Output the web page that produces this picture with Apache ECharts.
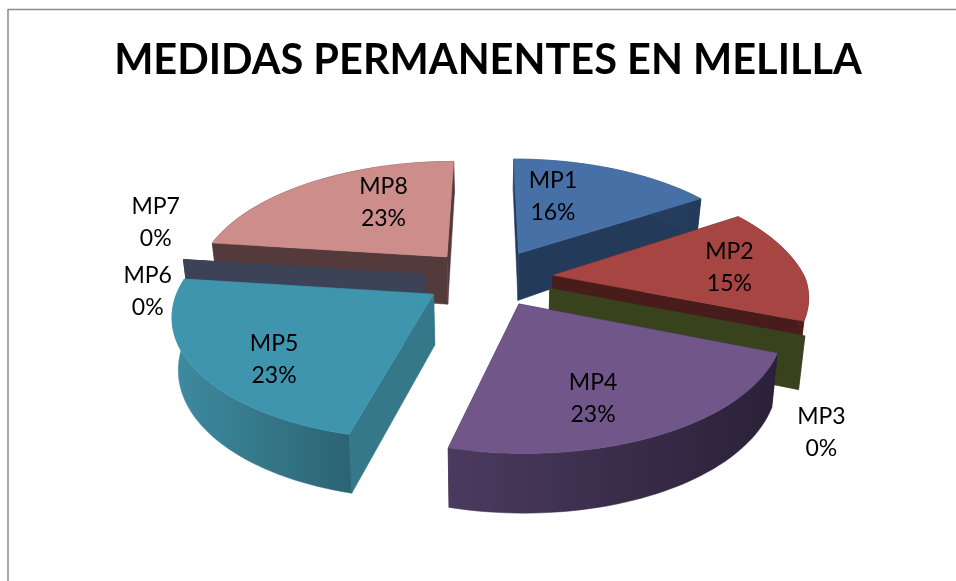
<!DOCTYPE html>
<html><head><meta charset="utf-8">
<style>html,body{margin:0;padding:0;background:#fff}#c{width:956px;height:581px}</style>
<script src="https://cdn.jsdelivr.net/npm/echarts@6/dist/echarts.min.js"></script>
</head><body><div id="c"></div>
<script>
const titleText = 'MEDIDAS PERMANENTES EN MELILLA';
const categories = ['MP1','MP2','MP3','MP4','MP5','MP6','MP7','MP8'];
const percents = [16,15,0,23,23,0,0,23];
const topColors = ['#4670a6','#a64542','#76923c','#715789','#4095ae','#5a6b85','#c0c0c0','#cd8d8a'];
const wallColors = ['#233a5a','#481c1a','#38431e','#2f2540','#35788a','#3c4356','#3c4356','#543a3a'];
const rimStops = [['#2f4d78','#233a5a'],['#7a2f2d','#481c1a'],['#38431e','#38431e'],['#4b3a5f','#2a2138'],['#3e8ba0','#2b6473'],['#3c4356','#3c4356'],['#3c4356','#3c4356'],['#543a3a','#543a3a']];
// label placement: fraction of radius along the slice middle, plus a nudge
const labelRadius = [0.5,0.6,1.3,0.6,0.6,1.2,1.2,0.6];
const labelNudge = [[-17,-11],[29,-1],[-66,81],[-6,21],[-22,22],[11,35],[19,-34],[22,-7]];

const cx=488.5, cy=278, R=252, EXPLODE_X=65, EXPLODE_Y=60, A_BACK=0.485, A_FRONT=0.47, K_BACK=0.2, K_FRONT=0.15, CONVERGE=0.98;
const total = percents.reduce((a,b)=>a+b,0);
const starts=[]; let acc=0;
percents.forEach(p=>{starts.push(acc/total*Math.PI*2);acc+=p;});
function project(u,v){const back=v<0,K=back?K_BACK:K_FRONT,A=back?A_BACK:A_FRONT,s=1/(1-K*v/R);return [cx+u*s, cy+A*v*s];}
function depthAt(v){const n=v/R;return n<0?50+15*n:50+8*n;}
function drop(u,v){const p=project(u,v);return [cx+(p[0]-cx)*CONVERGE,p[1]+depthAt(v)];}

function renderItem(params,api){
  const i=params.dataIndex, a0=starts[i], a1=a0+percents[i]/total*Math.PI*2, mid=(a0+a1)/2;
  const ox=EXPLODE_X*Math.sin(mid), oy=-EXPLODE_Y*Math.cos(mid);
  const rim=a=>[ox+R*Math.sin(a), oy-R*Math.cos(a)];
  const steps=Math.max(1,Math.round(percents[i]*2));
  const arc=[]; for(let t=0;t<=steps;t++) arc.push(rim(a0+(a1-a0)*t/steps));
  const rank=vOrder.indexOf(i)*10;
  const poly=(pts,fill,z)=>({type:'polygon',shape:{points:pts},z2:rank+z,silent:true,
    style:{fill:fill,stroke:fill,lineWidth:0.5}});
  const kids=[];
  const wall=(a)=>{const r=rim(a);return [project(ox,oy),project(r[0],r[1]),drop(r[0],r[1]),drop(ox,oy)];};
  kids.push(poly(wall(a0),wallColors[i],1));
  kids.push(poly(wall(a1),wallColors[i],2));
  if(percents[i]>0){
    const outer=arc.map(p=>project(p[0],p[1])).concat(arc.slice().reverse().map(p=>drop(p[0],p[1])));
    kids.push(poly(outer,new echarts.graphic.LinearGradient(0,0,1,0,[{offset:0,color:rimStops[i][0]},{offset:1,color:rimStops[i][1]}]),3));
    const top=[project(ox,oy)].concat(arc.map(p=>project(p[0],p[1])));
    kids.push(poly(top,topColors[i],4));
  }
  const f=labelRadius[i];
  const lp=project(ox+f*R*Math.sin(mid),oy-f*R*Math.cos(mid));
  kids.push({type:'text',z2:1000,silent:true,
    style:{x:lp[0]+labelNudge[i][0],y:lp[1]+labelNudge[i][1],text:categories[i]+'\n'+percents[i]+'%',
      fill:'#000',font:'23px Lato',lineHeight:32,align:'center',verticalAlign:'middle'}});
  return {type:'group',children:kids};
}
const vOrder=categories.map((c,i)=>{const m=starts[i]+percents[i]/total*Math.PI;return [-Math.cos(m),-i,i];})
  .sort((a,b)=>a[0]-b[0]||a[1]-b[1]).map(x=>x[2]);

const chart=echarts.init(document.getElementById('c'),null,{renderer:'canvas'});
chart.setOption({
  animation:false,
  backgroundColor:'#fff',
  title:{text:titleText,left:483,top:35,textAlign:'center',textStyle:{fontFamily:'Lato',fontWeight:'bold',fontSize:41.5,color:'#000'}},
  graphic:[
    {type:'line',shape:{x1:8,y1:9.5,x2:956,y2:9.5},style:{stroke:'#8c8c8c',lineWidth:1.5}},
    {type:'line',shape:{x1:8,y1:9,x2:8,y2:581},style:{stroke:'#8c8c8c',lineWidth:1.5}}
  ],
  series:[{type:'custom',coordinateSystem:'none',renderItem:renderItem,data:percents.map((p,i)=>({name:categories[i],value:p}))}]
});
</script></body></html>
